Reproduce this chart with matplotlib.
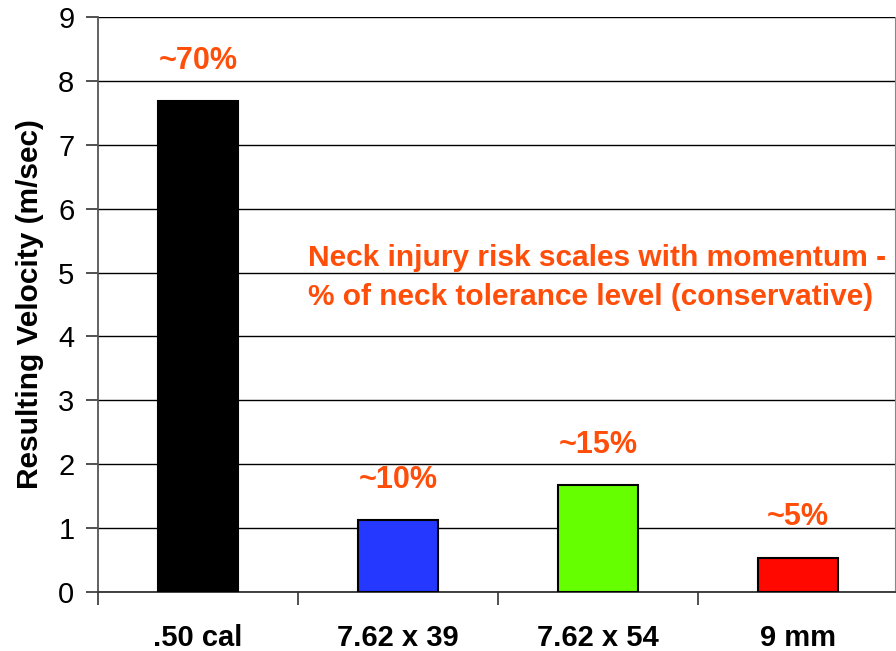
import matplotlib
matplotlib.use("Agg")
import matplotlib.pyplot as plt

categories = [".50 cal", "7.62 x 39", "7.62 x 54", "9 mm"]
velocity = [7.68, 1.13, 1.67, 0.54]
risk_labels = ["~70%", "~10%", "~15%", "~5%"]
bar_colors = ["#000000", "#2438FF", "#66FF00", "#FF0800"]
y_ticks = [0, 1, 2, 3, 4, 5, 6, 7, 8, 9]
note = "Neck injury risk scales with momentum -\n% of neck tolerance level (conservative)"

plt.rcParams['font.family'] = ['Liberation Sans', 'DejaVu Sans']
orange = "#FF4E0A"

fig = plt.figure(figsize=(8.96, 6.51), dpi=100)
ax = fig.add_axes([98/896, 1-592/651, 797/896, 575/651])

x = list(range(len(categories)))
ax.bar(x, velocity, width=0.4, color=bar_colors, edgecolor="black", linewidth=1.5, zorder=3)

ax.set_xlim(-0.5, 3.485)
ax.set_ylim(0, 9)
ax.set_yticks(y_ticks)
ax.set_yticklabels([str(t) for t in y_ticks], fontsize=21)
ax.yaxis.grid(True, color="black", linewidth=1.0, zorder=0)
ax.set_axisbelow(True)

ax.set_xticks([i + 0.5 for i in x[:-1]] + [-0.5])
ax.set_xticklabels([])
ax.set_xticks(x, minor=True)
ax.set_xticklabels(categories, minor=True, fontsize=21, fontweight="bold")
ax.tick_params(axis="x", which="minor", length=0, pad=23)
ax.tick_params(axis="x", which="major", length=9, width=1.2, color="#333333")
ax.tick_params(axis="y", length=9, width=1.2, color="#333333", pad=8)

ax.spines["top"].set_visible(False)
ax.spines["left"].set_color("#555555")
ax.spines["left"].set_linewidth(1.3)
ax.spines["bottom"].set_color("#333333")
ax.spines["bottom"].set_linewidth(1.3)
ax.spines["right"].set_color("#888888")

ax.set_ylabel("Resulting Velocity (m/sec)", fontsize=21.5, fontweight="bold", labelpad=10)

for xi, v, lab in zip(x, velocity, risk_labels):
    ax.annotate(lab, (xi, v), xytext=(0, 29), textcoords="offset points",
                ha="center", va="center", fontsize=22, fontweight="bold", color=orange)

ax.text(0.55, 4.93, note, ha="left", va="center", fontsize=21.5, fontweight="bold",
        color=orange, linespacing=1.5, zorder=5)

fig.savefig("out.png", dpi=100)
